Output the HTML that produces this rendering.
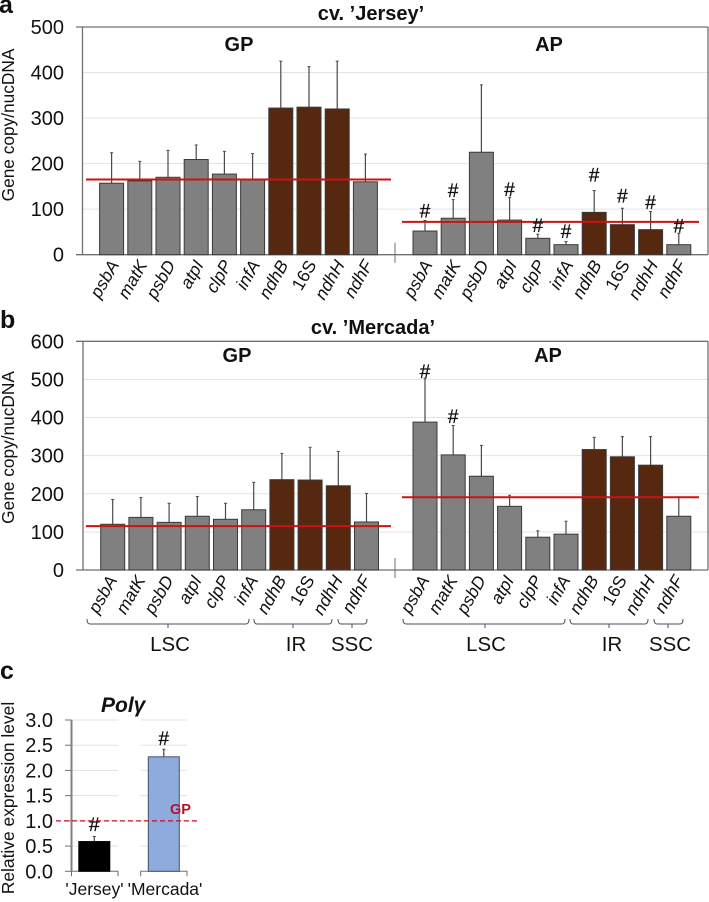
<!DOCTYPE html>
<html>
<head>
<meta charset="utf-8">
<title>Gene copy number chart</title>
<style>
html,body{margin:0;padding:0;background:#fff;}
svg{display:block;}
text{font-family:"Liberation Sans",sans-serif;fill:#111;}
.t{font-weight:bold;font-size:20px;text-anchor:middle;}
.h{font-weight:bold;font-size:20px;text-anchor:middle;}
.l{font-weight:bold;font-size:25px;}
.r{font-size:20.4px;text-anchor:middle;}
</style>
</head>
<body>
<svg id="fig" width="709" height="902" viewBox="0 0 709 902" xmlns="http://www.w3.org/2000/svg">
<text class="l" x="-1" y="13">a</text>
<text class="l" x="0" y="328">b</text>
<text class="l" x="0" y="679">c</text>
<text class="t" x="371" y="20">cv. ’Jersey’</text>
<text class="t" x="373" y="334">cv. ’Mercada’</text>
<text x="101" y="712" style="font-weight:bold;font-style:italic;font-size:21px">Polγ</text>
<text class="r" x="170" y="651">LSC</text>
<text class="r" x="296" y="651">IR</text>
<text class="r" x="352" y="651">SSC</text>
<text class="r" x="486" y="651">LSC</text>
<text class="r" x="612" y="651">IR</text>
<text class="r" x="670" y="651">SSC</text>
<text x="0" y="0" transform="translate(14,125) rotate(-90)" text-anchor="middle" style="font-size:17.3px">Gene copy/nucDNA</text>
<text x="0" y="0" transform="translate(14,447.5) rotate(-90)" text-anchor="middle" style="font-size:17.3px">Gene copy/nucDNA</text>
<text x="0" y="0" transform="translate(14,798) rotate(-90)" text-anchor="middle" style="font-size:17.4px">Relative expression level</text>
</svg>
<script>
var genes = ['psbA','matK','psbD','atpI','clpP','infA','ndhB','16S','ndhH','ndhF'];
var regions = ['LSC','LSC','LSC','LSC','LSC','LSC','IR','IR','IR','SSC'];

var aTicks = [0,100,200,300,400,500];
var aGpValues = [157,162,170,209,177,165,322,324,320,160];
var aGpErrorTops = [224,205,229,241,227,222,425,413,425,221];
var aGpMean = [165];
var aApValues = [52,80,225,76,36,22,93,66,55,22];
var aApErrorTops = [75,121,373,126,45,29,141,102,95,47];
var aApMean = [72];
var aApHashLevels = [95,140,null,142,63,50,174,128,113,62];

var bTicks = [0,100,200,300,400,500,600];
var bGpValues = [120,138,125,141,133,158,237,236,221,126];
var bGpErrorTops = [185,190,175,193,175,230,306,322,311,201];
var bGpMean = [115];
var bApValues = [388,302,246,167,86,94,316,297,275,141];
var bApErrorTops = [503,379,327,196,103,128,348,350,350,192];
var bApMean = [191];
var bApHashLevels = [520,401,null,null,null,null,null,null,null,null];

var cCategories = ["'Jersey'","'Mercada'"];
var cTicks = ['0.0','0.5','1.0','1.5','2.0','2.5','3.0'];
var cValues = [0.59,2.27];
var cErrorTops = [0.69,2.42];
var cHashLevels = [0.92,2.62];
var cReference = [1.0];

var svg = document.getElementById('fig');
var NS = 'http://www.w3.org/2000/svg';
function make(tag, attrs, parent) {
  var n = document.createElementNS(NS, tag);
  for (var k in attrs) n.setAttribute(k, attrs[k]);
  (parent || svg).appendChild(n);
  return n;
}
function line(x1, y1, x2, y2, color, w) {
  return make('line', {x1:x1, y1:y1, x2:x2, y2:y2, stroke:color, 'stroke-width':w});
}
function label(x, y, str, size, anchor) {
  var n = make('text', {x:x, y:y, 'text-anchor':anchor, 'font-size':size});
  n.textContent = str;
  return n;
}
function hashMark(x, y) {
  var n = label(x, y, '#', 19, 'middle');
  n.setAttribute('stroke', '#111');
  n.setAttribute('stroke-width', '0.3');
  return n;
}
function linear(d0, d1, r0, r1) {
  return function (v) { return r0 + (v - d0) * (r1 - r0) / (d1 - d0); };
}

function drawFrame(key, ticks, top, bottom, left, right) {
  var y = linear(ticks[0], ticks[ticks.length - 1], bottom, top);
  ticks.forEach(function (t, i) {
    if (i > 0 && i < ticks.length - 1) {
      var g = line(left, y(t), right, y(t), '#e3e3e3', 1);
      
      
    }
    var lab = label(64, y(t) + 7, String(t), 20, 'end');
    
    
  });
  var tt = line(76, top, right, top, '#707070', 1.3);
  
  
  var rb = line(right, top, right, bottom, '#707070', 1.3);
  
  
  var la = line(left, top, left, bottom, '#707070', 1.3);
  
  
  var ba = line(76, bottom, right, bottom, '#707070', 1.3);
  
  
  var sep = line(395, bottom - 12, 395, bottom + 8, '#707070', 1);
  
  
  return y;
}

function drawGroup(key, y, labelDx, x0, values, errs, mean, lineX0, lineX1, hashes) {
  var step = 28.2, bw = 24;
  var x = function (i) { return x0 + step * i; };
  var baseline = y(0);
  genes.forEach(function (gene, i) {
    var ey = line(x(i), y(errs[i]), x(i), y(values[i]), '#4a4a4a', 1.2);
    
    
    var cap = line(x(i) - 1.5, y(errs[i]), x(i) + 1.5, y(errs[i]), '#4a4a4a', 1);
    
    
    var color = regions[i] === 'IR' ? '#55280f' : '#808080';
    var bar = make('rect', {x:x(i) - bw / 2, y:y(values[i]), width:bw, height:baseline - y(values[i]), fill:color, stroke:'#3a3a3a', 'stroke-width':1});
    
    
    var lab = make('text', {transform:'translate(' + (x(i) + labelDx) + ',' + (baseline + 10) + ') rotate(-60)', 'text-anchor':'end', 'font-size':17.5, 'font-style':gene === '16S' ? 'normal' : 'italic'});
    lab.textContent = gene;
    
    
  });
  var m = line(lineX0, y(mean[0]), lineX1, y(mean[0]), '#cc1212', 2);
  
  
  if (hashes) {
    hashes.forEach(function (h, i) {
      if (h === null) return;
      var hs = hashMark(x(i), y(h) + 6);
      
      
    });
  }
}

var yA = drawFrame('panel-a', aTicks, 27, 254.7, 82.5, 708);
drawGroup('panel-a-gp', yA, 8, 111.6, aGpValues, aGpErrorTops, aGpMean, 86, 391, null);
drawGroup('panel-a-ap', yA, 8, 425, aApValues, aApErrorTops, aApMean, 402, 699, aApHashLevels);

var yB = drawFrame('panel-b', bTicks, 341.3, 570, 83, 708);
drawGroup('panel-b-gp', yB, 5, 112.7, bGpValues, bGpErrorTops, bGpMean, 86, 391, null);
drawGroup('panel-b-ap', yB, 5, 425, bApValues, bApErrorTops, bApMean, 402, 699, bApHashLevels);

var groupHeads = [
  {a:239, t:'GP', y:51, n:'panel-a-gp-heading'},
  {a:549, t:'AP', y:51, n:'panel-a-ap-heading'},
  {a:237, t:'GP', y:362, n:'panel-b-gp-heading'},
  {a:548, t:'AP', y:362, n:'panel-b-ap-heading'}
];
groupHeads.forEach(function (h) {
  var n = make('text', {x:h.a, y:h.y, 'class':'h'});
  n.textContent = h.t;
  
  
});

var brackets = [
  {x0:87, x1:249, xm:168, n:'gp-lsc-bracket'},
  {x0:254, x1:332, xm:293, n:'gp-ir-bracket'},
  {x0:338, x1:367, xm:352, n:'gp-ssc-bracket'},
  {x0:403, x1:565, xm:485, n:'ap-lsc-bracket'},
  {x0:570, x1:648, xm:609, n:'ap-ir-bracket'},
  {x0:654, x1:683, xm:668, n:'ap-ssc-bracket'}
];
brackets.forEach(function (b) {
  var p = make('path', {d:'M' + b.x0 + ' 619Q' + b.x0 + ' 624 ' + (b.x0 + 3) + ' 624H' + (b.x1 - 3) + 'Q' + b.x1 + ' 624 ' + b.x1 + ' 619M' + b.xm + ' 624V628', fill:'none', stroke:'#44505e', 'stroke-width':1});
  
  
});

(function drawPanelC() {
  var top = 720, bottom = 871.3;
  var y = linear(0, 3, bottom, top);
  var segs = [[71.5, 118], [140.7, 187]];
  cTicks.forEach(function (t) {
    var v = parseFloat(t);
    segs.forEach(function (s, si) {
      if (v > 0) {
        var g = line(s[0], y(v), s[1], y(v), '#e3e3e3', 1);
        
        
      }
    });
    var tk = line(65, y(v), 71.5, y(v), '#707070', 1);
    
    
    var lab = label(53, y(v) + 7, t, 20, 'end');
    
    
  });
  var ax = line(71.5, top, 71.5, bottom, '#808080', 2);
  
  
  segs.forEach(function (s, si) {
    var b = make('path', {d:'M' + s[0] + ' ' + (bottom + 5) + 'V' + bottom + 'H' + s[1] + 'V' + (bottom + 5), fill:'none', stroke:'#707070', 'stroke-width':1});
    
    
  });
  var centers = [94.3, 163.8];
  var fills = ['#000000', '#8faadc'];
  var strokes = ['#000000', '#44546a'];
  var textX = [94.5, 165];
  cCategories.forEach(function (c, i) {
    var e = line(centers[i], y(cErrorTops[i]), centers[i], y(cValues[i]), '#444', 1.2);
    
    
    var cp = line(centers[i] - 1.5, y(cErrorTops[i]), centers[i] + 1.5, y(cErrorTops[i]), '#444', 1);
    
    
    var r = make('rect', {x:centers[i] - 15.5, y:y(cValues[i]), width:31, height:bottom - y(cValues[i]), fill:fills[i], stroke:strokes[i], 'stroke-width':1});
    
    
    var h = hashMark(centers[i], y(cHashLevels[i]) + 6);
    
    
    var l = label(textX[i], 895, c, 17.5, 'middle');
    
    
  });
  var ref = line(56, y(cReference[0]), 198, y(cReference[0]), '#c0102a', 1.3);
  ref.setAttribute('stroke-dasharray', '5 3');
  
  
  var gp = make('text', {x:170, y:814, 'font-weight':'bold', 'font-size':14.5, style:'fill:#b5122a'});
  gp.textContent = 'GP';
  
  
})();
</script>
</body>
</html>
